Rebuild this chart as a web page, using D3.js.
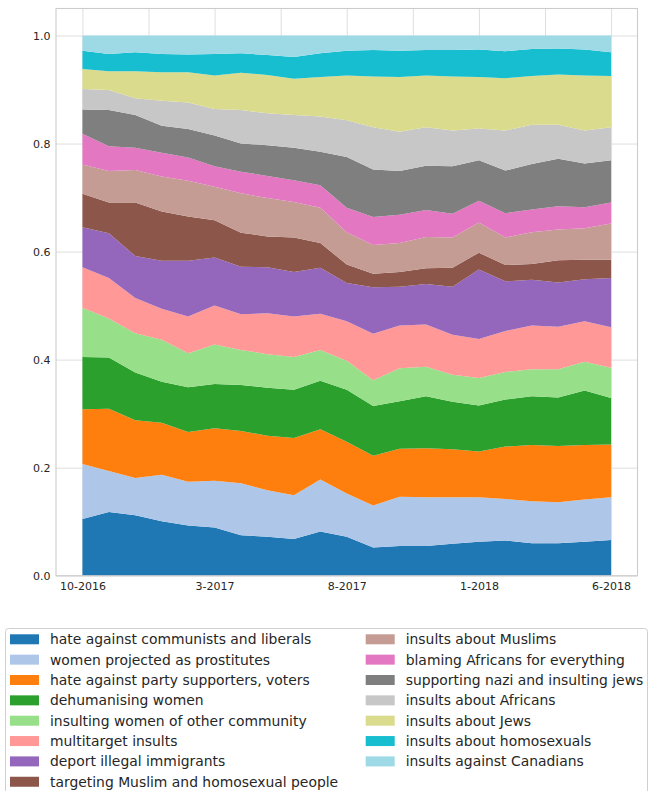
<!DOCTYPE html>
<html><head><meta charset="utf-8">
<script src="https://cdn.jsdelivr.net/npm/d3@7"></script>
<style>body{margin:0;background:#fff} text{font-family:"DejaVu Sans",sans-serif}</style>
</head><body><svg id="c" width="649" height="791"></svg>
<script>
const months = ["10-2016","11-2016","12-2016","1-2017","2-2017","3-2017","4-2017","5-2017","6-2017","7-2017","8-2017","9-2017","10-2017","11-2017","12-2017","1-2018","2-2018","3-2018","4-2018","5-2018","6-2018"];
const tickLabels = ["10-2016","3-2017","8-2017","1-2018","6-2018"];
const yTicks = [0, 0.2, 0.4, 0.6, 0.8, 1.0];
const categories = [
  "hate against communists and liberals",
  "women projected as prostitutes",
  "hate against party supporters, voters",
  "dehumanising women",
  "insulting women of other community",
  "multitarget insults",
  "deport illegal immigrants",
  "targeting Muslim and homosexual people",
  "insults about Muslims",
  "blaming Africans for everything",
  "supporting nazi and insulting jews",
  "insults about Africans",
  "insults about Jews",
  "insults about homosexuals",
  "insults against Canadians"
];
const colors = ["#1f77b4","#aec7e8","#ff7f0e","#2ca02c","#98df8a","#ff9896","#9467bd","#8c564b","#c49c94","#e377c2","#7f7f7f","#c7c7c7","#dbdb8d","#17becf","#9edae5"];

// shares (%) per month
const communistsLiberals = [10.5,11.8,11.2,10.1,9.3,8.9,7.5,7.2,6.8,8.2,7.2,5.2,5.5,5.5,5.9,6.3,6.5,6.0,6.0,6.3,6.6];
const womenProstitutes   = [10.2,7.6,6.9,8.6,8.1,8.7,9.6,8.6,8.1,9.6,8.0,7.8,9.1,9.0,8.6,8.2,7.7,7.8,7.6,7.8,7.9];
const partySupporters    = [10.1,11.5,10.7,9.6,9.2,9.7,9.7,10.1,10.6,9.3,9.6,9.2,8.9,9.1,8.9,8.5,9.7,10.4,10.4,10.1,9.8];
const dehumanisingWomen  = [9.7,9.5,8.8,7.6,8.3,8.2,8.5,8.9,8.9,9.0,9.6,9.2,8.8,9.6,8.8,8.5,8.7,9.0,9.0,10.1,8.6];
const otherCommunity     = [9.1,7.2,7.3,7.8,6.3,7.3,6.5,6.2,6.1,5.7,5.4,4.8,6.1,5.5,5.0,5.1,5.1,5.0,5.2,5.3,5.6];
const multitarget        = [7.5,7.5,6.5,5.7,6.8,7.2,6.6,7.6,7.5,6.7,7.3,8.6,7.9,7.8,7.4,7.2,7.6,8.1,7.9,7.5,7.5];
const deportImmigrants   = [7.4,8.3,7.8,8.9,10.3,8.9,8.8,8.5,8.2,8.5,7.1,8.6,7.2,7.5,8.9,12.9,9.2,8.5,8.2,7.8,9.1];
const muslimHomosexual   = [6.2,5.7,9.9,9.1,8.2,6.9,6.3,5.7,6.4,4.6,3.4,2.5,2.7,2.9,3.5,3.1,3.0,2.9,4.1,3.6,3.4];
const aboutMuslims       = [5.4,5.8,6.0,6.5,6.6,6.2,7.3,7.1,6.6,6.5,6.0,5.3,5.4,5.8,5.6,5.6,5.1,5.9,5.7,5.8,6.7];
const blamingAfricans    = [5.7,4.6,4.1,4.4,4.3,3.8,4.0,4.1,4.0,4.2,4.5,5.2,5.2,5.0,4.4,4.0,4.5,4.2,4.3,3.9,3.9];
const naziJews           = [4.5,6.7,6.1,5.0,5.3,5.7,5.2,5.7,6.0,6.2,9.4,8.8,8.1,8.2,8.8,7.5,7.9,8.4,8.8,8.1,7.8];
const aboutAfricans      = [3.8,3.7,3.1,4.6,4.9,4.9,6.2,5.9,6.1,6.5,6.8,7.8,7.3,7.1,6.6,5.9,7.4,7.3,6.3,6.1,6.1];
const aboutJews          = [3.7,3.5,5.0,5.3,5.6,6.2,6.9,7.1,6.7,7.3,8.3,9.4,10.1,9.6,10.0,9.5,9.7,9.0,9.3,10.2,9.5];
const aboutHomosexuals   = [3.4,3.2,3.5,3.4,3.3,4.0,3.6,3.7,4.0,4.4,4.6,4.9,4.9,4.7,4.9,5.1,5.0,5.0,4.8,4.8,4.4];
const againstCanadians   = [2.8,3.4,3.1,3.4,3.5,3.4,3.3,3.6,4.0,3.3,2.8,2.7,2.8,2.7,2.7,2.6,2.9,2.5,2.4,2.6,3.1];

const seriesList = [communistsLiberals, womenProstitutes, partySupporters, dehumanisingWomen, otherCommunity,
  multitarget, deportImmigrants, muslimHomosexual, aboutMuslims, blamingAfricans, naziJews, aboutAfricans,
  aboutJews, aboutHomosexuals, againstCanadians];

const table = months.map((m, i) => {
  const row = {idx: i, month: m};
  categories.forEach((c, k) => row[c] = seriesList[k][i]);
  return row;
});

const svg = d3.select("#c");
const L = 56, R = 637.5, T = 8.5, B = 575.7;
const x = d3.scaleLinear().domain([-1, 21]).range([L, R]);
const y = d3.scaleLinear().domain([0, 1.05]).range([B, T]);

// grid + axes
const gx = svg.append("g").attr("transform", `translate(0,${B})`)
  .call(d3.axisBottom(x).tickValues(d3.range(0, 20.01, 2.5)).tickSize(-(B - T)).tickPadding(6.5)
    .tickFormat(d => (d % 5 === 0) ? tickLabels[d / 5] : ""));
gx.select(".domain").remove();
gx.selectAll("line").attr("stroke", "#dedede").attr("stroke-width", 1);
gx.selectAll("text").attr("fill", "#262626").style("font-size", "11px");

const gy = svg.append("g").attr("transform", `translate(${L},0)`)
  .call(d3.axisLeft(y).tickValues(yTicks).tickSize(-(R - L)).tickPadding(5.5).tickFormat(d3.format(".1f")));
gy.select(".domain").remove();
gy.selectAll("line").attr("stroke", "#dedede").attr("stroke-width", 1);
gy.selectAll("text").attr("fill", "#262626").style("font-size", "11px");

// stacked areas
const stack = d3.stack().keys(categories).offset(d3.stackOffsetExpand);
const layers = stack(table);
const area = d3.area().x(d => x(d.data.idx)).y0(d => y(d[0])).y1(d => y(d[1]));
svg.append("g").selectAll("path").data(layers).join("path")
  .attr("d", area).attr("fill", (d, i) => colors[i]).attr("stroke", "none");

// frame
svg.append("rect").attr("x", L).attr("y", T).attr("width", R - L).attr("height", B - T)
  .attr("fill", "none").attr("stroke", "#cccccc").attr("stroke-width", 1.1);

// legend
const lg = svg.append("g");
lg.append("rect").attr("x", 5.5).attr("y", 628.5).attr("width", 642).attr("height", 200).attr("rx", 3)
  .attr("fill", "#fff").attr("stroke", "#d0d0d0").attr("stroke-width", 1);
const colX = [10, 365.7];
categories.forEach((c, i) => {
  const col = i < 8 ? 0 : 1;
  const row = i < 8 ? i : i - 8;
  const cy = 639.3 + row * 20.35;
  lg.append("rect").attr("x", colX[col]).attr("y", cy - 5).attr("width", 29).attr("height", 10)
    .attr("fill", colors[i]);
  lg.append("text").attr("x", colX[col] + 40).attr("y", cy).attr("dy", "0.36em")
    .attr("fill", "#262626").style("font-size", "13.9px").text(c);
});
</script></body></html>
